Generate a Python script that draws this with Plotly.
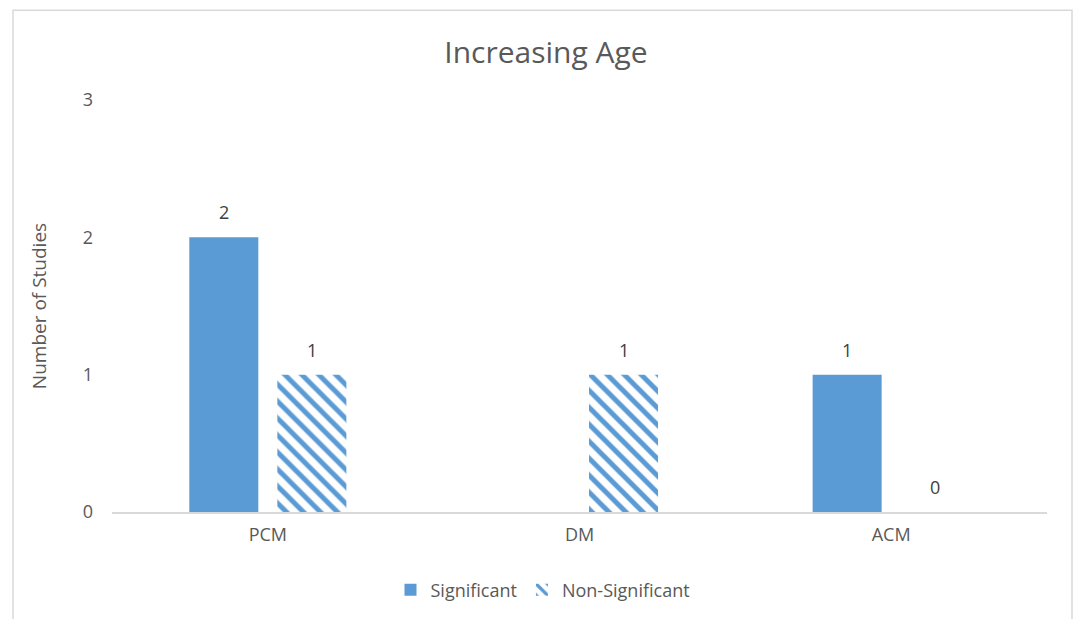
import plotly.graph_objects as go

categories = ["PCM", "DM", "ACM"]
significant = [2, None, 1]
non_significant = [1, 1, 0]
y_ticks = [0, 1, 2, 3]

W, H = 1074, 619
L, R, T, B = 112, 27, 100, 106
pw, ph = W - L - R, H - T - B
BLUE = "#5B9BD5"
GREY = "#595959"
FONT = "Open Sans, sans-serif"

fig = go.Figure()
fig.add_trace(go.Bar(
    name="Significant", x=categories, y=significant,
    marker=dict(color=BLUE, line=dict(width=0)),
))
fig.add_trace(go.Bar(
    name="Non-Significant", x=categories, y=non_significant,
    marker=dict(color="white", line=dict(width=0),
                pattern=dict(shape="\\", fgcolor=BLUE, bgcolor="white",
                             fgopacity=1, size=12, solidity=0.42)),
))

# data labels placed above each bar (offset to left/right bar of the group)
annotations = []
for series, dx in ((significant, -44), (non_significant, 44)):
    for cat, v in zip(categories, series):
        if v is None:
            continue
        annotations.append(dict(
            x=cat, y=v, xref="x", yref="y", text=str(v), showarrow=False,
            xshift=dx, yshift=25, yanchor="middle",
            font=dict(family=FONT, size=18, color="#404040")))

fig.update_layout(
    width=W, height=H,
    margin=dict(l=L, r=R, t=T, b=B),
    paper_bgcolor="white", plot_bgcolor="white",
    font=dict(family=FONT, color=GREY, size=18),
    title=dict(text="Increasing Age", x=546 / W, xanchor="center",
               y=1 - 52 / H, yanchor="middle",
               font=dict(size=30, color=GREY)),
    barmode="group", bargap=0.435, bargroupgap=0.216,
    showlegend=True,
    legend=dict(orientation="h", x=(543 - L) / pw, xanchor="center",
                y=(513 - 590) / ph, yanchor="middle",
                font=dict(size=18, color=GREY), itemwidth=30,
                traceorder="normal"),
    xaxis=dict(showgrid=False, showline=True, linecolor="#d9d9d9", linewidth=1.5,
               ticks="", ticklabelstandoff=6,
               tickfont=dict(size=18, color=GREY)),
    yaxis=dict(range=[0, 3], tickvals=y_ticks, showgrid=False, zeroline=False,
               showline=False, ticks="", ticklabelstandoff=18,
               tickfont=dict(size=18, color=GREY),
               title=dict(text="Number of Studies", standoff=31,
                          font=dict(size=19, color=GREY))),
    annotations=annotations,
    shapes=[dict(type="rect", xref="paper", yref="paper",
                 x0=(13 - L) / pw, x1=(1072 - L) / pw,
                 y0=(513 - 640) / ph, y1=(513 - 10) / ph,
                 line=dict(color="#d9d9d9", width=1.5),
                 fillcolor="rgba(0,0,0,0)")],
)

fig.write_html("out.html")
